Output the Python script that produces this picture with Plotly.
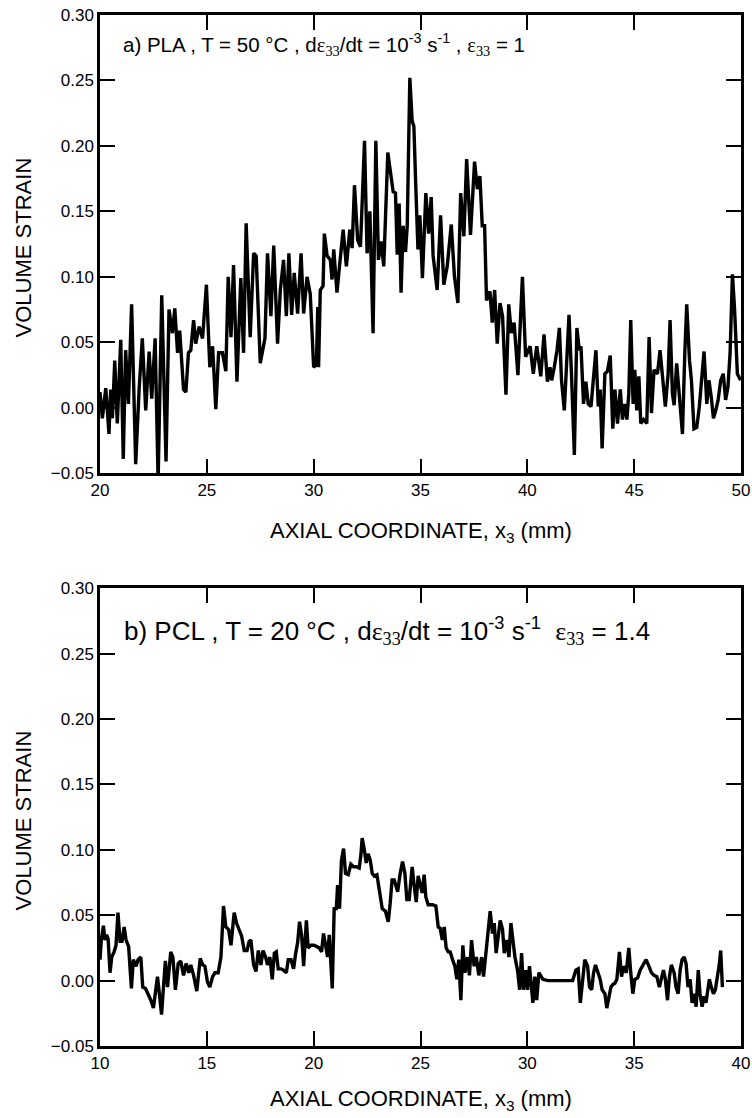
import plotly.graph_objects as go
from plotly.subplots import make_subplots

# ---- panel a) PLA ----
pla_x = [20.00,20.11,20.27,20.42,20.50,20.58,20.69,20.81,20.97,21.09,21.20,21.33,21.48,21.67,21.83,21.98,22.14,22.30,22.42,22.58,
         22.72,22.89,23.09,23.23,23.39,23.50,23.63,23.73,23.91,24.02,24.14,24.25,24.38,24.48,24.64,24.80,24.98,25.14,25.27,25.42,
         25.55,25.73,25.89,26.00,26.13,26.25,26.41,26.59,26.72,26.84,27.03,27.19,27.31,27.50,27.72,27.84,28.00,28.13,28.31,28.44,
         28.59,28.72,28.84,28.97,29.09,29.25,29.41,29.53,29.69,29.84,
         30.00,30.13,30.19,30.23,30.31,30.44,30.50,30.63,30.78,30.86,30.94,31.09,31.22,31.38,31.53,31.69,31.80,31.91,32.06,32.19,
         32.38,32.50,32.63,32.78,32.91,33.03,33.16,33.28,33.47,33.59,33.72,33.83,33.91,34.00,34.09,34.19,34.30,34.38,34.50,34.61,
         34.69,34.78,34.88,34.97,35.09,35.25,35.38,35.50,35.59,35.78,35.94,36.09,36.25,36.44,36.59,36.75,36.88,37.03,37.16,37.34,
         37.53,37.66,37.78,37.89,38.00,38.09,38.25,38.36,38.47,38.59,38.72,38.84,39.00,39.13,39.25,39.38,39.56,39.77,39.92,40.13,
         40.28,40.44,40.63,40.78,40.94,41.06,
         41.14,41.26,41.39,41.50,41.60,41.73,41.85,41.95,42.07,42.20,42.32,42.43,42.51,42.63,42.74,42.85,42.98,43.10,43.21,43.32,
         43.41,43.50,43.63,43.75,43.88,44.00,44.10,44.22,44.35,44.45,44.56,44.66,44.75,44.84,44.95,45.03,45.12,45.22,45.31,45.44,
         45.59,45.70,45.81,45.93,46.09,46.21,46.34,46.46,46.59,46.68,46.79,46.87,46.99,47.10,47.26,47.37,47.46,47.59,47.68,47.80,
         47.93,48.05,48.15,48.27,48.40,48.50,48.61,48.71,48.82,48.93,49.05,49.17,49.28,49.39,49.49,49.60,49.70,49.83,49.98]
pla_y = [0.012,-0.008,0.015,-0.020,0.014,-0.008,0.036,-0.012,0.052,-0.039,0.044,0.003,0.079,-0.043,0.014,0.053,-0.002,0.043,0.007,0.053,
         -0.056,0.086,-0.041,0.075,0.057,0.076,0.042,0.059,0.014,0.012,0.042,0.044,0.067,0.049,0.062,0.053,0.094,0.031,0.047,-0.001,
         0.042,0.042,0.028,0.100,0.054,0.109,0.020,0.099,0.042,0.141,0.054,0.118,0.116,0.034,0.053,0.118,0.070,0.124,0.049,0.090,
         0.113,0.070,0.118,0.071,0.103,0.072,0.118,0.072,0.100,0.087,
         0.031,0.033,0.077,0.031,0.090,0.093,0.133,0.116,0.113,0.098,0.121,0.088,0.110,0.136,0.108,0.136,0.122,0.170,0.128,0.123,
         0.204,0.118,0.150,0.057,0.204,0.113,0.127,0.108,0.195,0.182,0.165,0.164,0.117,0.156,0.088,0.139,0.119,0.139,0.252,0.219,
         0.215,0.169,0.121,0.147,0.099,0.164,0.133,0.161,0.116,0.090,0.147,0.094,0.108,0.140,0.100,0.080,0.164,0.131,0.190,0.132,
         0.188,0.167,0.177,0.139,0.139,0.082,0.089,0.065,0.090,0.049,0.080,0.070,0.010,0.079,0.057,0.065,0.025,0.100,0.039,0.047,
         0.026,0.047,0.024,0.056,0.020,0.031,
         0.021,0.031,0.044,0.061,0.021,-0.002,0.042,0.071,0.024,-0.036,0.061,0.044,0.047,0.003,0.020,0.003,0.001,0.021,0.044,0.001,
         0.014,-0.031,0.026,0.028,0.040,-0.016,0.014,-0.012,0.014,-0.009,0.003,-0.009,0.011,0.067,0.003,0.029,-0.002,0.024,-0.012,-0.009,
         -0.012,0.054,-0.004,0.029,0.026,0.044,0.021,0.001,0.026,0.067,0.011,0.002,0.034,0.011,-0.020,0.042,0.079,0.036,0.021,-0.016,
         -0.015,0.001,0.021,0.043,0.003,0.021,0.008,-0.008,-0.002,0.006,0.021,0.026,0.006,0.016,0.042,0.102,0.075,0.026,0.021]

# ---- panel b) PCL ----
pcl_x = [10.00,10.06,10.16,10.23,10.31,10.38,10.47,10.55,10.66,10.75,10.84,10.94,11.03,11.13,11.22,11.34,11.47,11.56,11.69,11.78,
         11.91,12.00,12.13,12.25,12.38,12.50,12.59,12.69,12.78,12.88,12.97,13.06,13.16,13.31,13.41,13.53,13.66,13.78,13.91,14.03,
         14.16,14.25,14.38,14.53,14.69,14.81,14.91,15.03,15.14,15.27,15.38,15.53,15.66,15.78,15.89,16.02,16.13,16.20,16.28,16.39,
         16.52,16.63,16.75,16.88,16.98,17.06,17.19,17.30,17.41,17.53,17.63,17.75,17.84,17.95,18.06,18.16,18.25,18.34,18.47,18.59,
         18.72,18.81,18.94,19.06,19.16,19.25,19.34,19.44,19.53,19.66,19.74,19.87,
         20.02,20.26,20.37,20.46,20.57,20.65,20.73,20.87,20.96,21.06,21.12,21.21,21.30,21.40,21.49,21.62,21.74,21.87,21.99,22.13,
         22.21,22.27,22.36,22.46,22.55,22.65,22.74,22.83,22.96,23.09,23.21,23.36,23.49,23.58,23.67,23.77,23.93,24.05,24.16,24.27,
         24.36,24.47,24.61,24.70,24.80,24.89,24.99,25.08,25.17,25.25,25.36,25.56,25.72,25.83,25.92,26.02,26.11,26.20,26.30,26.39,
         26.50,26.61,26.70,26.79,26.89,26.98,27.08,27.20,27.29,27.39,27.51,27.61,27.73,27.86,27.95,28.07,28.17,28.26,28.37,28.45,
         28.54,28.64,28.73,28.84,28.92,29.04,29.14,29.23,29.33,29.42,29.54,29.64,29.73,29.82,29.92,30.01,30.10,30.17,30.26,30.35,
         30.44,30.54,30.63,30.73,30.97,
         32.12,32.27,32.38,32.48,32.59,32.69,32.82,32.91,33.01,33.10,33.19,33.29,33.41,33.50,33.63,33.72,33.82,33.91,34.00,34.10,
         34.19,34.31,34.41,34.50,34.63,34.75,34.84,34.94,35.03,35.16,35.28,35.40,35.56,35.69,35.81,35.93,36.06,36.18,36.28,36.37,
         36.46,36.56,36.65,36.74,36.87,36.96,37.06,37.15,37.24,37.34,37.43,37.52,37.62,37.71,37.80,37.90,38.00,38.08,38.18,38.27,
         38.36,38.43,38.52,38.61,38.71,38.80,38.89,38.99,39.05,39.13]
pcl_y = [0.016,0.031,0.042,0.031,0.035,0.032,0.006,0.018,0.022,0.027,0.052,0.030,0.030,0.041,0.031,0.026,-0.006,0.016,0.011,0.016,
         0.018,-0.005,-0.006,-0.010,-0.015,-0.021,-0.010,0.003,-0.010,-0.026,-0.005,0.015,-0.005,0.022,0.018,-0.007,0.013,0.015,0.004,0.013,
         0.006,0.012,0.004,-0.008,0.017,0.012,0.011,-0.001,-0.005,0.003,0.006,0.006,0.018,0.057,0.041,0.039,0.027,0.041,0.052,0.044,
         0.038,0.034,0.023,0.023,0.030,0.031,0.012,0.007,0.023,0.012,0.023,0.018,0.012,0.018,0.001,0.021,0.022,0.009,0.009,0.008,
         0.006,0.016,0.016,0.009,0.021,0.029,0.045,0.034,0.011,0.046,0.025,0.027,
         0.027,0.025,0.022,0.036,0.026,0.018,0.035,-0.006,0.055,0.055,0.073,0.055,0.092,0.101,0.082,0.081,0.089,0.087,0.087,0.086,
         0.096,0.109,0.101,0.090,0.097,0.092,0.082,0.080,0.081,0.067,0.055,0.053,0.045,0.059,0.077,0.077,0.068,0.082,0.091,0.082,
         0.062,0.062,0.087,0.073,0.060,0.080,0.072,0.067,0.081,0.064,0.058,0.058,0.057,0.041,0.040,0.031,0.041,0.025,0.022,0.022,
         0.016,0.011,0.001,0.016,-0.015,0.027,0.006,0.018,0.004,0.031,0.011,0.018,0.004,0.018,0.003,0.021,0.039,0.053,0.036,0.044,
         0.021,0.036,0.046,0.039,0.021,0.031,0.018,0.044,0.031,0.018,0.008,-0.007,0.021,-0.007,0.008,-0.007,0.011,-0.001,-0.017,0.003,
         -0.015,0.006,0.003,0.001,0.000,
         0.000,0.008,0.009,-0.017,0.001,0.016,0.011,-0.005,-0.007,0.006,0.012,0.006,0.001,-0.007,-0.010,-0.021,-0.014,-0.005,-0.003,-0.002,
         0.001,0.022,0.003,0.011,0.006,0.025,0.006,-0.010,0.001,0.002,0.008,0.012,0.016,0.011,0.006,0.004,0.003,-0.005,0.003,0.008,
         0.001,-0.015,0.003,0.012,0.006,-0.005,-0.010,0.008,0.016,0.018,0.013,-0.005,0.001,-0.017,-0.010,-0.020,0.008,-0.010,-0.020,-0.012,
         -0.017,-0.007,0.001,-0.005,-0.010,-0.007,0.001,0.013,0.023,-0.005]

x_range_a = [20, 50]
x_range_b = [10, 40]
y_range = [-0.05, 0.30]
x_ticks_a = [20, 25, 30, 35, 40, 45, 50]
x_ticks_b = [10, 15, 20, 25, 30, 35, 40]
y_ticks = [-0.05, 0.00, 0.05, 0.10, 0.15, 0.20, 0.25, 0.30]

FONT = "Liberation Sans, Arial, sans-serif"

fig = make_subplots(rows=2, cols=1, vertical_spacing=0.111)

fig.add_trace(go.Scatter(x=pla_x, y=pla_y, mode="lines",
                         line=dict(color="black", width=3.4), showlegend=False), row=1, col=1)
fig.add_trace(go.Scatter(x=pcl_x, y=pcl_y, mode="lines",
                         line=dict(color="black", width=3.4), showlegend=False), row=2, col=1)

axis_common = dict(showline=True, linecolor="black", linewidth=2.5, mirror="ticks",
                   ticks="inside", ticklen=15, tickwidth=2.2, tickcolor="black",
                   showgrid=False, zeroline=False, tickmode="array",
                   tickfont=dict(family=FONT, size=17, color="black"))

fig.update_xaxes(**axis_common, range=x_range_a, tickvals=x_ticks_a, row=1, col=1)
fig.update_xaxes(**axis_common, range=x_range_b, tickvals=x_ticks_b, row=2, col=1)
fig.update_yaxes(**axis_common, range=y_range, tickvals=y_ticks, tickformat=".2f", row=1, col=1)
fig.update_yaxes(**axis_common, range=y_range, tickvals=y_ticks, tickformat=".2f", row=2, col=1)

eps = "<span style='font-family:Liberation Serif'>ε</span>"
sub33 = "<sub><span style='font-family:Liberation Serif'>33</span></sub>"

txt_a = ("a) PLA , T = 50 °C , d" + eps + sub33 + "/dt = 10<sup>-3</sup> s<sup>-1</sup> , "
         + eps + sub33 + " = 1")
txt_b = ("b) PCL , T = 20 °C , d" + eps + sub33 + "/dt = 10<sup>-3</sup> s<sup>-1</sup>  "
         + eps + sub33 + " = 1.4")

title_font = dict(family=FONT, size=22, color="black")
annotations = [
    dict(text=txt_a, xref="x domain", yref="y", x=0.032, y=0.2775, xanchor="left", yanchor="middle",
         showarrow=False, font=dict(family=FONT, size=20.5, color="black")),
    dict(text=txt_b, xref="x2 domain", yref="y2", x=0.035, y=0.267, xanchor="left", yanchor="middle",
         showarrow=False, font=dict(family=FONT, size=26, color="black")),
    dict(text="AXIAL COORDINATE, x<sub>3</sub> (mm)", xref="x domain", yref="y domain",
         x=0.5, y=-0.128, xanchor="center", yanchor="middle", showarrow=False, font=title_font),
    dict(text="AXIAL COORDINATE, x<sub>3</sub> (mm)", xref="x2 domain", yref="y2 domain",
         x=0.5, y=-0.118, xanchor="center", yanchor="middle", showarrow=False, font=title_font),
    dict(text="VOLUME STRAIN", xref="x domain", yref="y domain", x=-0.12, y=0.493,
         xanchor="center", yanchor="middle", textangle=-90, showarrow=False, font=title_font),
    dict(text="VOLUME STRAIN", xref="x2 domain", yref="y2 domain", x=-0.12, y=0.493,
         xanchor="center", yanchor="middle", textangle=-90, showarrow=False, font=title_font),
]

fig.update_layout(
    width=752, height=1118,
    margin=dict(l=99.5, r=11, t=14.5, b=72, autoexpand=False),
    paper_bgcolor="white", plot_bgcolor="white",
    annotations=annotations,
    font=dict(family=FONT, color="black"),
)
fig.update_layout(yaxis=dict(domain=[0.5555, 1.0]), yaxis2=dict(domain=[0.0, 0.444]))

fig.write_html("out.html")
